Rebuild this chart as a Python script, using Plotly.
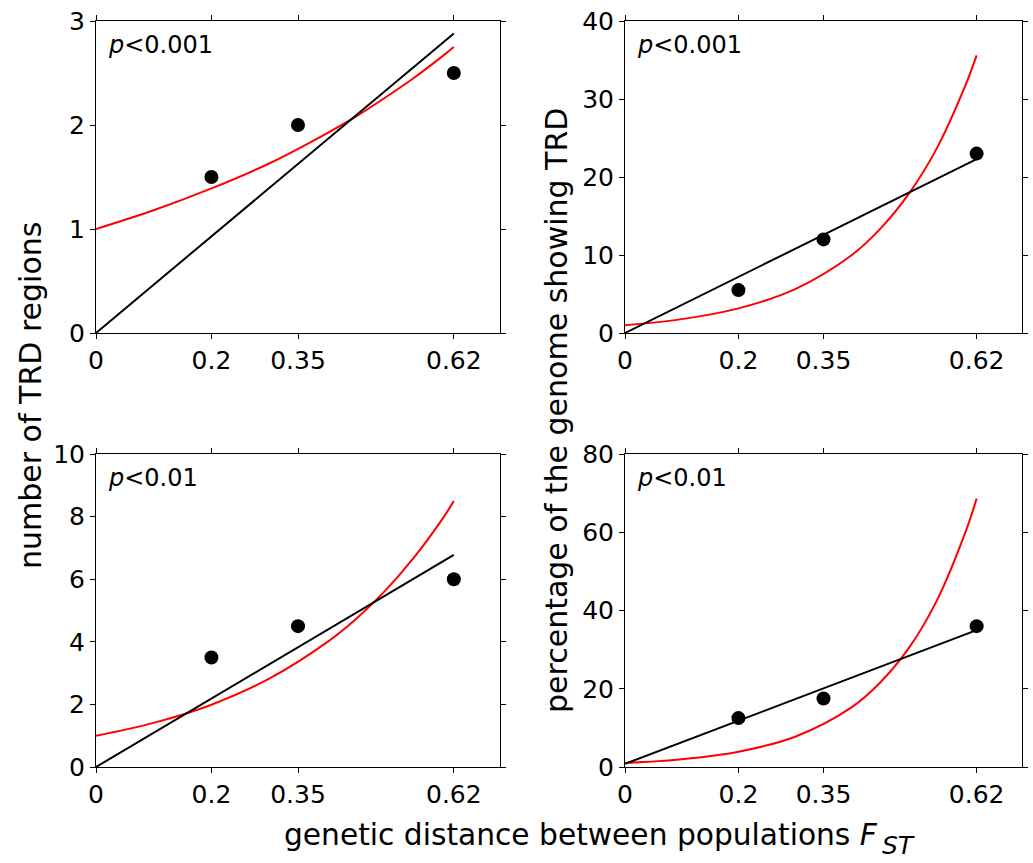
import plotly.graph_objects as go

# ---------------- data ----------------
fst = [0.2, 0.35, 0.62]
tl_points = [1.5, 2.0, 2.5]
tr_points = [5.5, 12.0, 23.0]
bl_points = [3.5, 4.5, 6.0]
br_points = [12.5, 17.5, 36.0]

lin_x = [0, 0.62]
tl_linear = [0.0, 2.88]
tr_linear = [0.0, 22.3]
bl_linear = [0.0, 6.78]
br_linear = [0.8, 35.0]

curve_x = [0, 0.1, 0.2, 0.3, 0.4, 0.45, 0.5, 0.55, 0.6, 0.62]
tl_curve = [1.0, 1.18, 1.39, 1.63, 1.92, 2.08, 2.26, 2.45, 2.66, 2.75]
tr_curve = [1.0, 1.78, 3.16, 5.63, 10.0, 13.35, 17.8, 23.7, 31.7, 35.6]
bl_curve = [1.0, 1.41, 1.99, 2.82, 3.98, 4.72, 5.61, 6.67, 7.92, 8.5]
br_curve = [1.0, 1.98, 3.91, 7.74, 15.3, 21.6, 30.3, 42.6, 59.9, 68.6]

x_ticks = [0, 0.2, 0.35, 0.62]
x_ticktext = ["0", "0.2", "0.35", "0.62"]
p_labels = ["p<0.001", "p<0.001", "p<0.01", "p<0.01"]
y_ranges = [[0, 3], [0, 40], [0, 10], [0, 80]]
y_dticks = [1, 10, 2, 20]

panels = [
    (tl_points, tl_linear, tl_curve),
    (tr_points, tr_linear, tr_curve),
    (bl_points, bl_linear, bl_curve),
    (br_points, br_linear, br_curve),
]

W, H = 1033, 863
FONT = "DejaVu Sans"
# pixel boxes of plot areas: (left, right, top, bottom)
boxes = [(96, 500, 21, 333), (625, 1022, 21, 333),
         (96, 500, 454, 767), (625, 1022, 454, 767)]

fig = go.Figure()
layout = dict(
    width=W, height=H,
    margin=dict(l=0, r=0, t=0, b=0),
    paper_bgcolor="white", plot_bgcolor="white",
    showlegend=False,
    font=dict(family=FONT, size=25, color="black"),
)

annotations = []
for i, (pts, lin, cur) in enumerate(panels):
    n = "" if i == 0 else str(i + 1)
    xa, ya = "x" + n, "y" + n
    fig.add_trace(go.Scatter(x=curve_x, y=cur, mode="lines", line=dict(color="#ff0000", width=2, shape="spline"),
                             xaxis=xa, yaxis=ya, hoverinfo="skip"))
    fig.add_trace(go.Scatter(x=lin_x, y=lin, mode="lines", line=dict(color="black", width=2),
                             xaxis=xa, yaxis=ya, hoverinfo="skip"))
    fig.add_trace(go.Scatter(x=fst, y=pts, mode="markers", marker=dict(color="black", size=14),
                             xaxis=xa, yaxis=ya, cliponaxis=False))
    l, r, t, b = boxes[i]
    common = dict(showline=True, linecolor="black", linewidth=1, mirror="ticks",
                  ticks="outside", ticklen=5, tickwidth=1, tickcolor="black",
                  showgrid=False, zeroline=False, automargin=False,
                  tickfont=dict(family=FONT, size=25, color="black"))
    layout["xaxis" + n] = dict(domain=[l / W, r / W], range=[0, 0.7], anchor=ya,
                               tickvals=x_ticks, ticktext=x_ticktext, **common)
    layout["yaxis" + n] = dict(domain=[1 - b / H, 1 - t / H], range=y_ranges[i], anchor=xa,
                               dtick=y_dticks[i], tick0=0, **common)
    annotations.append(dict(
        x=(l + 10) / W, y=1 - (t + 24) / H, xref="paper", yref="paper",
        xanchor="left", yanchor="middle", showarrow=False,
        text="<i>" + p_labels[i][0] + "</i>" + p_labels[i][1:].replace("<", "&lt;"),
        font=dict(family=FONT, size=24, color="black")))

annotations.append(dict(x=30 / W, y=1 - 396 / H, xref="paper", yref="paper", textangle=-90,
                        xanchor="center", yanchor="middle", showarrow=False,
                        text="number of TRD regions", font=dict(family=FONT, size=30, color="black")))
annotations.append(dict(x=556 / W, y=1 - 411 / H, xref="paper", yref="paper", textangle=-90,
                        xanchor="center", yanchor="middle", showarrow=False,
                        text="percentage of the genome showing TRD", font=dict(family=FONT, size=30, color="black")))
annotations.append(dict(x=282 / W, y=1 - 834 / H, xref="paper", yref="paper",
                        xanchor="left", yanchor="middle", showarrow=False,
                        text="genetic distance between populations <i>F</i>",
                        font=dict(family=FONT, size=29.7, color="black")))
annotations.append(dict(x=880 / W, y=1 - 845 / H, xref="paper", yref="paper",
                        xanchor="left", yanchor="middle", showarrow=False,
                        text="<i>ST</i>",
                        font=dict(family=FONT, size=25, color="black")))
layout["annotations"] = annotations

fig.update_layout(**layout)
fig.write_html("out.html")
